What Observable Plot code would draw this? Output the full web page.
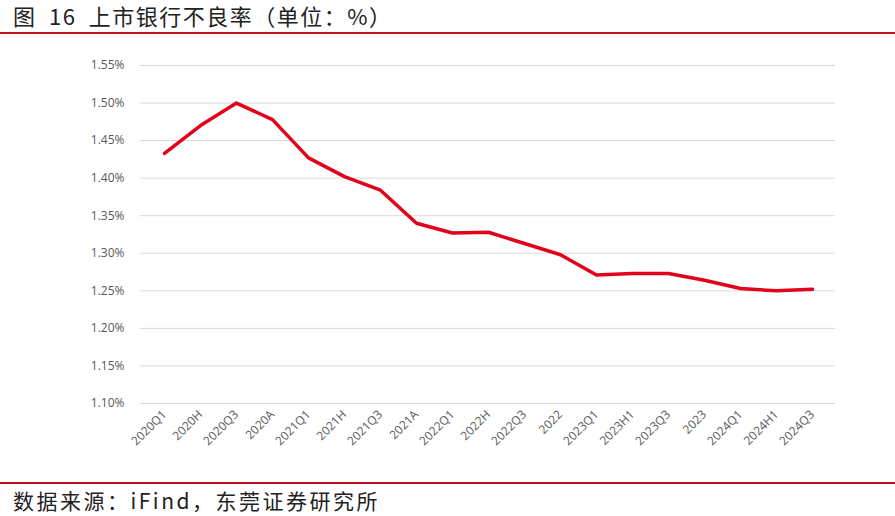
<!DOCTYPE html>
<html><head><meta charset="utf-8">
<script src="https://cdn.jsdelivr.net/npm/d3@7"></script>
<script src="https://cdn.jsdelivr.net/npm/@observablehq/plot@0.6"></script>
<style>
body{margin:0;background:#fff;width:895px;height:516px;overflow:hidden;font-family:"Noto Sans CJK SC","Noto Sans",sans-serif;}
#title{position:absolute;left:13px;top:1px;font-size:22px;line-height:28px;color:#222;white-space:nowrap;letter-spacing:1.5px;word-spacing:6px;}
.rule{position:absolute;left:0;width:895px;height:2px;background:#c0121b;}
#caption{position:absolute;left:13px;top:486px;font-size:21px;line-height:28px;color:#222;white-space:nowrap;letter-spacing:2.5px;}
#chart{position:absolute;left:0;top:36px;}
</style></head>
<body>
<div id="title">图 16 上市银行不良率（单位：%）</div>
<div class="rule" style="top:32px"></div>
<div id="chart"></div>
<div class="rule" style="top:482px"></div>
<div id="caption">数据来源：iFind，东莞证券研究所</div>
<script>
const periods = ["2020Q1","2020H","2020Q3","2020A","2021Q1","2021H","2021Q3","2021A","2022Q1","2022H","2022Q3","2022","2023Q1","2023H1","2023Q3","2023","2024Q1","2024H1","2024Q3"];
const nplRatio = [1.433,1.470,1.500,1.478,1.427,1.402,1.384,1.340,1.327,1.328,1.313,1.298,1.271,1.273,1.273,1.264,1.253,1.250,1.252];
const yTicks = [1.10,1.15,1.20,1.25,1.30,1.35,1.40,1.45,1.50,1.55];

const data = periods.map((p,i)=>({period:p, value:nplRatio[i]}));

const chart = Plot.plot({
  width: 895,
  height: 444,
  marginTop: 29,
  marginBottom: 77,
  marginLeft: 140,
  marginRight: 60,
  style: {fontFamily: "'Open Sans','Noto Sans',sans-serif", fontSize: "12px", color: "#595959", background: "transparent"},
  x: {type: "point", domain: periods, padding: 0.46, label: null, tickSize: 0, tickRotate: -45, tickPadding: 9},
  y: {domain: [1.10, 1.55], ticks: yTicks, tickFormat: d => d.toFixed(2) + "%", label: null, tickSize: 0, tickPadding: 16},
  marks: [
    Plot.gridY(yTicks, {stroke: "#d9d9d9", strokeOpacity: 1, strokeWidth: 1}),
    Plot.line(data, {x: "period", y: "value", stroke: "#e3001b", strokeWidth: 3.5, strokeLinejoin: "round", strokeLinecap: "round"})
  ]
});
document.getElementById("chart").appendChild(chart);
</script>
</body></html>
